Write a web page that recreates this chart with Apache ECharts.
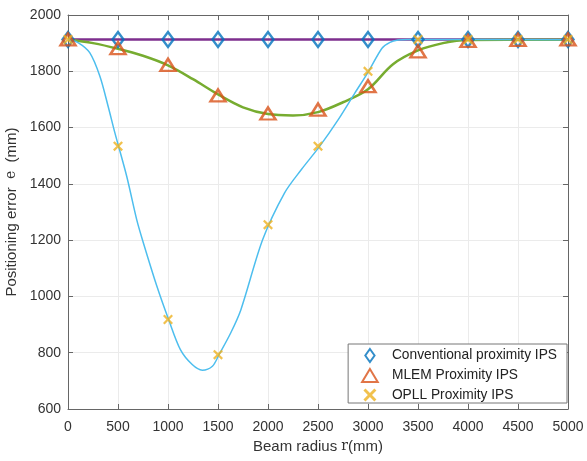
<!DOCTYPE html>
<html>
<head>
<meta charset="utf-8">
<script src="https://cdn.jsdelivr.net/npm/echarts@6/dist/echarts.min.js"></script>
<style>
  html, body { margin: 0; padding: 0; background: #fff; }
  #chart { width: 587px; height: 461px; }
</style>
</head>
<body>
<div id="chart"></div>
<script>
// marker positions (beam radius, mm)
var radius = [0, 500, 1000, 1500, 2000, 2500, 3000, 3500, 4000, 4500, 5000];
var convVals = [1913, 1913, 1913, 1913, 1913, 1913, 1913, 1913, 1913, 1913, 1913];
var mlemVals = [1913, 1882, 1823, 1714, 1650, 1664, 1747, 1871, 1908, 1912, 1913];
var opllVals = [1913, 1534, 918, 793, 1255, 1534, 1800, 1913, 1913, 1913, 1913];

// curves
var mlemCurveX = [0, 250, 500, 750, 1000, 1250, 1500, 1750, 2000, 2250, 2500, 2750, 3000, 3250, 3500, 3750, 4000, 5000];
var mlemCurveY = [1913, 1900, 1880, 1855, 1821, 1772, 1718, 1672, 1648, 1643, 1655, 1690, 1736, 1825, 1874, 1900, 1911, 1912];
var opllCurveX = [0, 100, 217, 318, 401, 469, 587, 687, 754, 889, 1006, 1124, 1242, 1343, 1444, 1510, 1628, 1729, 1947, 2166, 2334, 2518, 2704, 2871, 3006, 3140, 3220, 3300, 3400, 5000];
var opllCurveY = [1913, 1902, 1866, 1783, 1676, 1581, 1427, 1273, 1190, 1036, 918, 811, 758, 738, 752, 793, 871, 953, 1202, 1368, 1451, 1534, 1629, 1724, 1800, 1882, 1903, 1911, 1913, 1912];

var xTicks = { min: 0, max: 5000, step: 500 };
var yTicks = { min: 600, max: 2000, step: 200 };

var legendNames = ['Conventional proximity IPS', 'MLEM Proximity IPS', 'OPLL Proximity IPS'];

function pairs(xs, ys) {
	return xs.map(function (x, i) { return [x, ys[i]]; });
}

var font = 'Liberation Sans, Arial, Helvetica, sans-serif';
var axisCol = '#666';
var diamond = 'path://M5,0 L10,7 L5,14 L0,7 Z';
var triangle = 'path://M6,0 L12,10 L0,10 Z';
var cross = 'path://M0,1.6 L1.6,0 L5,3.4 L8.4,0 L10,1.6 L6.6,5 L10,8.4 L8.4,10 L5,6.6 L1.6,10 L0,8.4 L3.4,5 Z';

function plain(v) { return String(v); }

function xAx(pos) {
	return {
		type: 'value', position: pos,
		min: xTicks.min, max: xTicks.max, interval: xTicks.step,
		axisLine: { show: true, onZero: false, lineStyle: { color: axisCol, width: 1 } },
		axisTick: { show: true, inside: true, length: 5, lineStyle: { color: axisCol } },
		axisLabel: { show: pos === 'bottom', formatter: plain, color: '#333', fontSize: 14, fontFamily: font, margin: 11 },
		splitLine: { show: pos === 'bottom', lineStyle: { color: '#ebebeb', width: 1 } }
	};
}
function yAx(pos) {
	return {
		type: 'value', position: pos,
		min: yTicks.min, max: yTicks.max, interval: yTicks.step,
		axisLine: { show: true, onZero: false, lineStyle: { color: axisCol, width: 1 } },
		axisTick: { show: true, inside: true, length: 5, lineStyle: { color: axisCol } },
		axisLabel: { show: pos === 'left', formatter: plain, color: '#333', fontSize: 14, fontFamily: font, margin: 7 },
		splitLine: { show: pos === 'left', lineStyle: { color: '#ebebeb', width: 1 } }
	};
}

var xBottom = xAx('bottom');
xBottom.name = 'Beam radius {m|r}(mm)';
xBottom.nameLocation = 'middle';
xBottom.nameGap = 29;
xBottom.nameTextStyle = { color: '#333', fontSize: 15, fontFamily: font, rich: { m: { fontFamily: 'DejaVu Serif', fontSize: 14, color: '#333' } } };

var yLeft = yAx('left');
yLeft.name = 'Positioning error  {m|e}  (mm)';
yLeft.nameLocation = 'middle';
yLeft.nameGap = 46;
yLeft.nameTextStyle = { color: '#333', fontSize: 15, fontFamily: font, rich: { m: { fontFamily: 'DejaVu Serif', fontSize: 14, color: '#333' } } };

var chart = echarts.init(document.getElementById('chart'), null, { renderer: 'canvas' });

chart.setOption({
	animation: false,
	backgroundColor: '#fff',
	grid: { left: 68, right: 19, top: 15, bottom: 52, outerBoundsMode: 'none', containLabel: false },
	legend: {
		data: legendNames,
		orient: 'vertical',
		right: 20, bottom: 58,
		padding: [4, 10, 1, 13],
		itemGap: 5,
		itemWidth: 34, itemHeight: 13,
		backgroundColor: '#fff',
		borderColor: '#777', borderWidth: 1, borderRadius: 0,
		textStyle: { color: '#222', fontSize: 13.75, fontFamily: font }
	},
	xAxis: [xBottom, xAx('top')],
	yAxis: [yLeft, yAx('right')],
	series: [
		{
			name: 'conv-line', type: 'line', data: pairs(radius, convVals),
			symbol: 'none', lineStyle: { color: '#7E2F8E', width: 2.5 }, z: 2
		},
		{
			name: 'mlem-line', type: 'line', data: pairs(mlemCurveX, mlemCurveY), smooth: 0.35,
			symbol: 'none', lineStyle: { color: '#77AC30', width: 2.5 }, z: 3
		},
		{
			name: 'opll-line', type: 'line', data: pairs(opllCurveX, opllCurveY), smooth: 0.3,
			symbol: 'none', lineStyle: { color: '#4DBEEE', width: 1.5 }, z: 4
		},
		{
			name: legendNames[0], type: 'scatter', data: pairs(radius, convVals),
			symbol: diamond, symbolSize: [11, 15],
			itemStyle: { color: 'rgba(0,0,0,0)', borderColor: '#0072BD', borderWidth: 2.5 }, z: 5
		},
		{
			name: legendNames[1], type: 'scatter', data: pairs(radius, mlemVals),
			symbol: triangle, symbolSize: [15, 12],
			itemStyle: { color: 'rgba(0,0,0,0)', borderColor: '#D95319', borderWidth: 2.5 }, z: 6
		},
		{
			name: legendNames[2], type: 'scatter', data: pairs(radius, opllVals),
			symbol: cross, symbolSize: 10,
			itemStyle: { color: '#EDB120' }, z: 7
		}
	]
});
</script>
</body>
</html>
